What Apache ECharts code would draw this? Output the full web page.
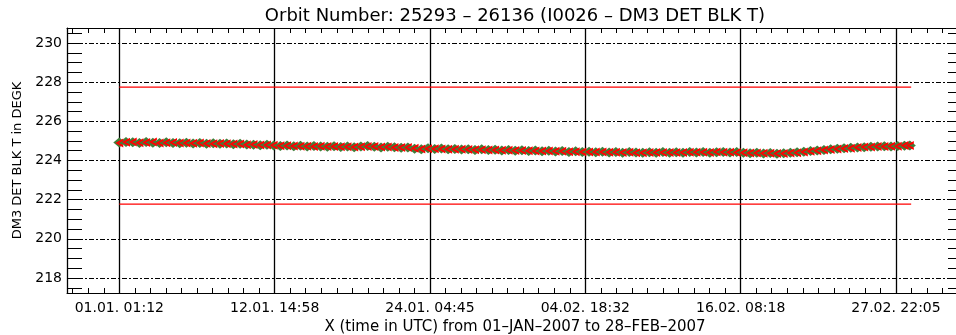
<!DOCTYPE html>
<html>
<head>
<meta charset="utf-8">
<script src="https://cdn.jsdelivr.net/npm/echarts@6/dist/echarts.min.js"></script>
<style>html,body{margin:0;padding:0;background:#fff}#c{width:956px;height:335px}</style>
</head>
<body>
<div id="c"></div>
<script>
// ---- data (days since 01.01.2007 01:12 UTC) ----
const titleText = 'Orbit Number: 25293 \u2013 26136 (I0026 \u2013 DM3 DET BLK T)';
const xName = 'X (time in UTC) from 01\u2013JAN\u20132007 to 28\u2013FEB\u20132007';
const yName = 'DM3 DET BLK T in DEGK';
const yTickLabels = [218, 220, 222, 224, 226, 228, 230];

const days = [0,0.5,1,1.5,2,2.5,3,3.5,4,4.5,5,
  5.5,6,6.5,7,7.5,8,8.5,9,9.5,10,
  10.5,11,11.5,12,12.5,13,13.5,14,14.5,15,
  15.5,16,16.5,17,17.5,18,18.5,19,19.5,20,
  20.5,21,21.5,22,22.5,23,23.5,24,24.5,25,
  25.5,26,26.5,27,27.5,28,28.5,29,29.5,30,
  30.5,31,31.5,32,32.5,33,33.5,34,34.5,35,
  35.5,36,36.5,37,37.5,38,38.5,39,39.5,40,
  40.5,41,41.5,42,42.5,43,43.5,44,44.5,45,
  45.5,46,46.5,47,47.5,48,48.5,49,49.5,50,
  50.5,51,51.5,52,52.5,53,53.5,54,54.5,55,
  55.5,56,56.5,57,57.5,58,58.5,58.9];

const greenVals = [224.92,224.95,224.93,224.90,224.94,224.91,224.89,224.93,224.90,224.88,224.91,
  224.87,224.90,224.86,224.88,224.85,224.87,224.83,224.86,224.82,224.80,
  224.78,224.81,224.76,224.74,224.77,224.73,224.75,224.71,224.74,224.72,
  224.70,224.73,224.69,224.72,224.68,224.71,224.74,224.70,224.67,224.70,
  224.68,224.65,224.67,224.60,224.57,224.62,224.59,224.61,224.57,224.59,
  224.56,224.58,224.54,224.57,224.53,224.55,224.51,224.54,224.50,224.52,
  224.49,224.51,224.47,224.50,224.46,224.48,224.44,224.47,224.43,224.45,
  224.42,224.45,224.41,224.44,224.40,224.43,224.41,224.39,224.42,224.40,
  224.43,224.39,224.42,224.40,224.44,224.41,224.43,224.40,224.42,224.44,
  224.41,224.43,224.39,224.37,224.40,224.36,224.38,224.35,224.37,224.39,
  224.42,224.45,224.48,224.51,224.54,224.57,224.60,224.62,224.65,224.67,
  224.68,224.70,224.71,224.73,224.72,224.74,224.75,224.77];

const redVals = [224.90,224.93,224.95,224.91,224.92,224.94,224.90,224.91,224.92,224.89,224.90,
  224.88,224.89,224.87,224.86,224.87,224.85,224.84,224.84,224.81,224.82,
  224.79,224.79,224.78,224.75,224.75,224.74,224.73,224.73,224.72,224.73,
  224.71,224.71,224.70,224.70,224.69,224.70,224.72,224.71,224.69,224.69,
  224.67,224.66,224.66,224.62,224.59,224.60,224.60,224.59,224.58,224.58,
  224.57,224.56,224.55,224.55,224.54,224.54,224.52,224.52,224.51,224.51,
  224.50,224.49,224.48,224.48,224.47,224.47,224.45,224.45,224.44,224.44,
  224.43,224.43,224.42,224.42,224.41,224.42,224.40,224.40,224.41,224.41,
  224.41,224.41,224.41,224.41,224.42,224.42,224.42,224.41,224.43,224.42,
  224.42,224.41,224.40,224.38,224.38,224.37,224.37,224.36,224.36,224.38,
  224.40,224.44,224.47,224.50,224.53,224.56,224.59,224.61,224.63,224.66,
  224.69,224.69,224.72,224.72,224.73,224.73,224.76,224.76];

const limitDays = [0, 59.0];
const limitHigh = [227.75, 227.75];
const limitLow = [221.77, 221.77];

// ---- axis ranges ----
const T0 = Date.UTC(2007, 0, 1, 1, 12, 0);
const DAY = 86400;
const XMIN = -336700, XMAX = 5431300;     // seconds from T0
const YMIN = 217.232, YMAX = 230.768;

function pad(n){ return (n < 10 ? '0' : '') + n; }
function fmtX(v){
  if (Math.abs(v / 1e6 - Math.round(v / 1e6)) > 1e-6) return '';
  const d = new Date(T0 + v * 1000);
  return pad(d.getUTCDate()) + '.' + pad(d.getUTCMonth() + 1) + '. ' + pad(d.getUTCHours()) + ':' + pad(d.getUTCMinutes());
}
function fmtY(v){
  for (const t of yTickLabels) if (Math.abs(v - t) < 1e-6) return String(t);
  return '';
}

const pts = (xs, ys) => xs.map((x, i) => [x * DAY, ys[i]]);

const FONT = 'DejaVu Sans';
const black = '#000';
const chevron = 'path://M10,0 L0,5 L10,10 L10,7.2 L4.2,5 L10,2.8 Z';

const chart = echarts.init(document.getElementById('c'), null, {renderer: 'canvas'});
chart.setOption({
  animation: false,
  backgroundColor: '#fff',
  grid: {left: 67, top: 28, width: 896, height: 265, containLabel: false, outerBoundsMode: 'none'},
  xAxis: [
    {type: 'value', position: 'bottom', min: XMIN, max: XMAX, minInterval: 1e6, maxInterval: 1e6,
     name: xName, nameLocation: 'middle', nameGap: 27,
     nameTextStyle: {fontFamily: FONT, fontSize: 15, color: black},
     axisLine: {show: true, onZero: false, lineStyle: {color: black, width: 1}},
     axisTick: {show: false},
     axisLabel: {formatter: fmtX, fontFamily: FONT, fontSize: 14, color: black, margin: 8, showMinLabel: true, showMaxLabel: true},
     splitLine: {show: true, lineStyle: {color: black, width: 1.3, type: 'solid'}}},
    {type: 'value', position: 'bottom', min: XMIN, max: XMAX, minInterval: 1e5, maxInterval: 1e5,
     axisLine: {show: false, onZero: false},
     axisTick: {show: true, inside: true, length: 5, lineStyle: {color: black, width: 1}},
     axisLabel: {show: false}, splitLine: {show: false}},
    {type: 'value', position: 'top', min: XMIN, max: XMAX, minInterval: 1e5, maxInterval: 1e5,
     name: titleText, nameLocation: 'middle', nameGap: 3,
     nameTextStyle: {fontFamily: FONT, fontSize: 18, color: black},
     axisLine: {show: true, onZero: false, lineStyle: {color: black, width: 1}},
     axisTick: {show: true, inside: true, length: 5, lineStyle: {color: black, width: 1}},
     axisLabel: {show: false}, splitLine: {show: false}}
  ],
  yAxis: [
    {type: 'value', position: 'left', min: YMIN, max: YMAX, minInterval: 2, maxInterval: 2,
     name: yName, nameLocation: 'middle', nameGap: 38,
     nameTextStyle: {fontFamily: FONT, fontSize: 13, color: black},
     axisLine: {show: true, onZero: false, lineStyle: {color: black, width: 1}},
     axisTick: {show: false},
     axisLabel: {formatter: fmtY, fontFamily: FONT, fontSize: 14, color: black, margin: 5},
     splitLine: {show: true, lineStyle: {color: black, width: 1, type: [5, 2, 2, 2]}}},
    {type: 'value', position: 'left', min: YMIN, max: YMAX, minInterval: 0.5, maxInterval: 0.5,
     axisLine: {show: false, onZero: false},
     axisTick: {show: true, inside: true, length: 15, lineStyle: {color: black, width: 1}},
     axisLabel: {show: false}, splitLine: {show: false}},
    {type: 'value', position: 'right', min: YMIN, max: YMAX, minInterval: 0.5, maxInterval: 0.5,
     axisLine: {show: true, onZero: false, lineStyle: {color: black, width: 1}},
     axisTick: {show: true, inside: true, length: 15, lineStyle: {color: black, width: 1}},
     axisLabel: {show: false}, splitLine: {show: false}}
  ],
  series: [
    {type: 'line', xAxisIndex: 0, yAxisIndex: 0, data: pts(limitDays, limitHigh), symbol: 'none',
     lineStyle: {color: '#ff0000', width: 1.3}, silent: true},
    {type: 'line', xAxisIndex: 0, yAxisIndex: 0, data: pts(limitDays, limitLow), symbol: 'none',
     lineStyle: {color: '#ff0000', width: 1.3}, silent: true},
    {type: 'scatter', xAxisIndex: 0, yAxisIndex: 0, data: pts(days, greenVals),
     symbol: 'diamond', symbolSize: [12, 10], itemStyle: {color: '#3f7f3a', opacity: 1}},
    {type: 'scatter', xAxisIndex: 0, yAxisIndex: 0, data: pts(days, redVals),
     symbol: chevron, symbolSize: [8, 9], itemStyle: {color: '#ff0000', opacity: 1}}
  ]
});
</script>
</body>
</html>
